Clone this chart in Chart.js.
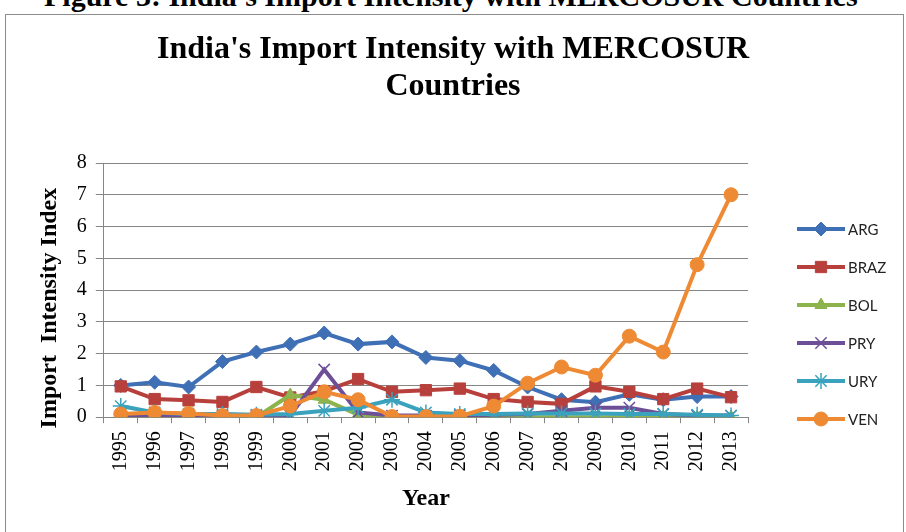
<!DOCTYPE html>
<html>
<head>
<meta charset="utf-8">
<script src="https://cdn.jsdelivr.net/npm/chart.js@4/dist/chart.umd.min.js"></script>
<style>
  body { margin: 0; background: #fff; width: 906px; height: 532px; overflow: hidden; position: relative; }
  #caption { position: absolute; left: 44px; top: -21px; font: bold 30px "Liberation Serif", serif; white-space: nowrap; color: #000; }
  #frame { position: absolute; left: 5px; top: 14px; width: 897px; height: 540px; border: 1.5px solid #8c8c8c; }
  #title { position: absolute; left: 0; width: 906px; top: 29px; text-align: center; font: bold 32px/37px "Liberation Serif", serif; color: #000; z-index: 2; }
  canvas { position: absolute; left: 0; top: 0; }
</style>
</head>
<body>
<div id="caption">Figure 3: India's Import Intensity with MERCOSUR Countries</div>
<div id="frame"></div>
<div id="title">India's Import Intensity with MERCOSUR<br>Countries</div>
<canvas id="chart" width="906" height="532"></canvas>
<script>
// values
const years = ["1995","1996","1997","1998","1999","2000","2001","2002","2003","2004",
               "2005","2006","2007","2008","2009","2010","2011","2012","2013"];
const arg  = [1.0, 1.1, 0.95, 1.75, 2.05, 2.3, 2.65, 2.3, 2.37, 1.88, 1.78, 1.47, 0.95, 0.55, 0.47, 0.72, 0.55, 0.65, 0.65];
const braz = [0.97, 0.57, 0.53, 0.48, 0.95, 0.62, 0.82, 1.2, 0.8, 0.85, 0.9, 0.57, 0.48, 0.42, 0.97, 0.8, 0.57, 0.9, 0.63];
const bol  = [0, 0, 0, 0, 0, 0.7, 0.55, 0.08, 0, 0, 0, 0, 0, 0, 0, 0, 0, 0, 0];
const pry  = [0.05, 0.05, 0.05, 0.05, 0.05, 0.05, 1.5, 0.15, 0.05, 0.05, 0.05, 0.08, 0.1, 0.2, 0.3, 0.3, 0.1, 0.05, 0.05];
const ury  = [0.35, 0.15, 0.1, 0.1, 0.08, 0.1, 0.2, 0.3, 0.55, 0.15, 0.1, 0.1, 0.12, 0.12, 0.12, 0.1, 0.1, 0.08, 0.05];
const ven  = [0.1, 0.15, 0.12, 0.05, 0.05, 0.35, 0.8, 0.55, 0.02, 0.02, 0.03, 0.35, 1.07, 1.58, 1.32, 2.55, 2.05, 4.8, 7.0];
const yTicks = [0, 1, 2, 3, 4, 5, 6, 7, 8];

const serif = "'Liberation Serif', 'Times New Roman', serif";

function series(label, data, color, style, radius, order) {
  return {
    label: label,
    data: data,
    borderColor: color,
    backgroundColor: color,
    borderWidth: 4,
    pointStyle: style,
    pointRadius: radius,
    pointHoverRadius: radius,
    pointBorderWidth: (style === "crossRot" || style === "star") ? 1.5 : 1,
    pointBorderColor: color,
    pointBackgroundColor: color,
    tension: 0,
    order: order
  };
}

// legend drawn as line + marker like the original
const lineLegend = {
  id: "lineLegend",
  afterDraw(chart) {
    const ctx = chart.ctx;
    const x0 = chart.chartArea.right + 49;
    const y0 = chart.chartArea.top + 66;
    ctx.save();
    chart.data.datasets.forEach((ds, i) => {
      const y = y0 + i * 38;
      ctx.strokeStyle = ds.borderColor;
      ctx.lineWidth = 4;
      ctx.beginPath();
      ctx.moveTo(x0, y);
      ctx.lineTo(x0 + 48, y);
      ctx.stroke();
      ctx.fillStyle = ds.backgroundColor;
      ctx.lineWidth = ds.pointBorderWidth;
      Chart.helpers.drawPoint(ctx, { pointStyle: ds.pointStyle, radius: ds.pointRadius, rotation: 0, borderWidth: ds.pointBorderWidth }, x0 + 24, y);
      ctx.fillStyle = "#222";
      ctx.font = "15px Lato, sans-serif";
      ctx.textBaseline = "middle";
      ctx.fillText(ds.label, x0 + 51, y + 1);
    });
    ctx.restore();
  }
};

new Chart(document.getElementById("chart"), {
  type: "line",
  data: {
    labels: years,
    datasets: [
      series("ARG", arg, "#3f6fb5", "rectRot", 7, 5),
      series("BRAZ", braz, "#b8403c", "rect", 8, 4),
      series("BOL", bol, "#8db34c", "triangle", 7, 3),
      series("PRY", pry, "#6d4f97", "crossRot", 8, 2),
      series("URY", ury, "#3aa2bd", "star", 8, 1),
      series("VEN", ven, "#ee8a33", "circle", 7, 0)
    ]
  },
  options: {
    responsive: false,
    animation: false,
    layout: { padding: { left: 35, right: 158, top: 163, bottom: 19 } },
    plugins: {
      legend: { display: false },
      tooltip: { enabled: false },
      title: { display: false }
    },
    scales: {
      x: {
        offset: true,
        grid: { offset: true, drawOnChartArea: false, drawTicks: true, tickLength: 6, color: "#868686", lineWidth: 1 },
        border: { color: "#868686", width: 1 },
        ticks: { color: "#000", font: { family: serif, size: 20 }, minRotation: 90, maxRotation: 90, autoSkip: false, padding: 8 },
        title: { display: true, text: "Year", color: "#000", font: { family: serif, size: 24, weight: "bold" }, padding: { top: 5, bottom: 0 } }
      },
      y: {
        min: 0,
        max: 8,
        afterBuildTicks(scale) { scale.ticks = yTicks.map(v => ({ value: v })); },
        grid: { color: "#868686", lineWidth: 1, tickLength: 8 },
        border: { color: "#868686", width: 1 },
        ticks: { color: "#000", font: { family: serif, size: 20 }, padding: 9 },
        title: { display: true, text: "Import  Intensity Index      ", color: "#000", font: { family: serif, size: 24, weight: "bold" }, padding: { top: 0, bottom: 4 } }
      }
    }
  },
  plugins: [lineLegend]
});
</script>
</body>
</html>
